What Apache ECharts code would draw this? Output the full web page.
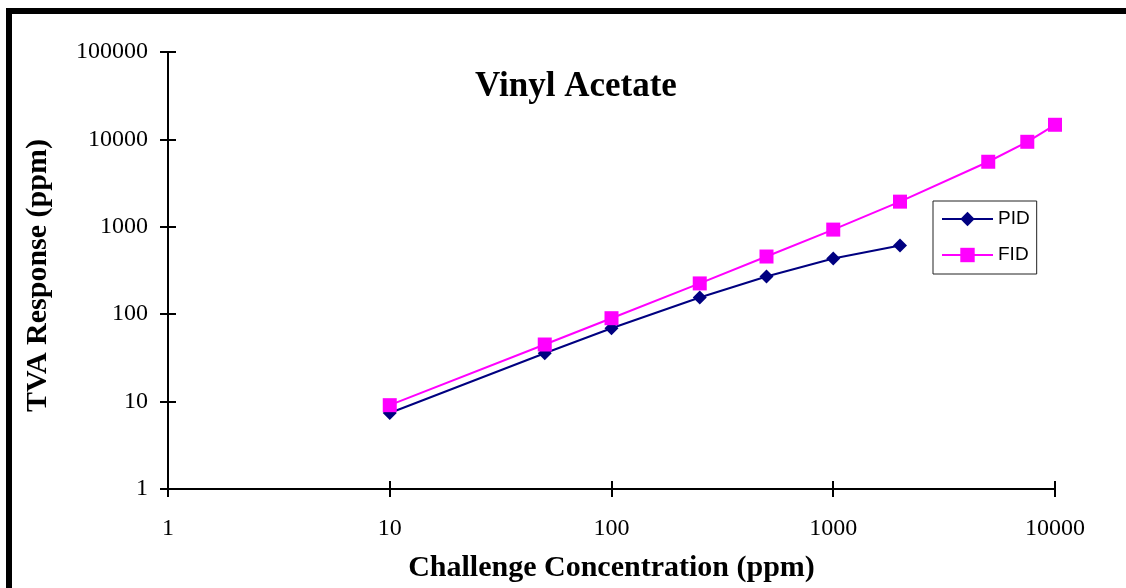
<!DOCTYPE html>
<html>
<head>
<meta charset="utf-8">
<script src="https://cdn.jsdelivr.net/npm/echarts@6/dist/echarts.min.js"></script>
<style>html,body{margin:0;padding:0;background:#fff;}#c{width:1126px;height:588px;}</style>
</head>
<body>
<div id="c"></div>
<script>
var titleText = 'Vinyl Acetate';
var xName = 'Challenge Concentration (ppm)';
var yName = 'TVA Response (ppm)';
var pidX = [10, 50, 100, 250, 500, 1000, 2000];
var pidY = [7.4, 35.7, 69, 155, 270, 433, 610];
var fidX = [10, 50, 100, 250, 500, 1000, 2000, 5000, 7500, 10000];
var fidY = [9.1, 45, 90, 225, 457, 929, 1940, 5550, 9390, 14700];

function pairs(xs, ys) { return xs.map(function (x, i) { return [x, ys[i]]; }); }
var serif = '"Liberation Serif", "Times New Roman", serif';
var fmt = function (v) { return String(Math.round(v)); };

var chart = echarts.init(document.getElementById('c'), null, {renderer: 'canvas'});
chart.setOption({
  animation: false,
  backgroundColor: '#fff',
  title: {
    text: titleText, left: 470, top: 64,
    textStyle: {fontFamily: serif, fontWeight: 'bold', fontSize: 35, color: '#000'}
  },
  legend: {
    left: 933, top: 201, orient: 'vertical',
    padding: [8, 7, 9, 8], itemGap: 16, itemWidth: 51, itemHeight: 18,
    borderColor: '#222', borderWidth: 1,
    textStyle: {fontFamily: '"Liberation Sans", Arial, sans-serif', fontSize: 19, color: '#000', lineHeight: 20, padding: [0,0,0,0]},
    data: ['PID', 'FID']
  },
  grid: {left: 168, right: 71, top: 52, bottom: 98, containLabel: false},
  xAxis: [{
    type: 'log', logBase: 10, min: 1, max: 10000,
    name: xName, nameLocation: 'middle', nameGap: 64,
    nameTextStyle: {fontFamily: serif, fontWeight: 'bold', fontSize: 30, color: '#000'},
    axisLine: {show: true, onZero: false, lineStyle: {color: '#000', width: 2}},
    axisTick: {show: true, inside: false, length: 8, lineStyle: {color: '#000', width: 2}},
    axisLabel: {fontFamily: serif, fontSize: 24, color: '#000', margin: 28, formatter: fmt},
    splitLine: {show: false}, minorTick: {show: false}
  }, {
    type: 'log', logBase: 10, min: 1, max: 10000, position: 'bottom',
    axisLine: {show: false},
    axisTick: {show: true, inside: true, length: 8, lineStyle: {color: '#000', width: 2}},
    axisLabel: {show: false}, splitLine: {show: false}
  }],
  yAxis: [{
    type: 'log', logBase: 10, min: 1, max: 100000,
    name: yName, nameLocation: 'middle', nameGap: 115,
    nameTextStyle: {fontFamily: serif, fontWeight: 'bold', fontSize: 30, color: '#000', padding: [0, 10, 0, 0]},
    axisLine: {show: true, onZero: false, lineStyle: {color: '#000', width: 2}},
    axisTick: {show: true, inside: false, length: 8, lineStyle: {color: '#000', width: 2}},
    axisLabel: {fontFamily: serif, fontSize: 24, color: '#000', margin: 20, formatter: fmt},
    splitLine: {show: false}, minorTick: {show: false}
  }, {
    type: 'log', logBase: 10, min: 1, max: 100000, position: 'left',
    axisLine: {show: false},
    axisTick: {show: true, inside: true, length: 8, lineStyle: {color: '#000', width: 2}},
    axisLabel: {show: false}, splitLine: {show: false}
  }],
  series: [{
    name: 'PID', type: 'line', xAxisIndex: 0, yAxisIndex: 0,
    data: pairs(pidX, pidY),
    symbol: 'diamond', symbolSize: 14,
    lineStyle: {color: '#000080', width: 2},
    itemStyle: {color: '#000080'}
  }, {
    name: 'FID', type: 'line', xAxisIndex: 0, yAxisIndex: 0,
    data: pairs(fidX, fidY),
    symbol: 'rect', symbolSize: 14,
    lineStyle: {color: '#FF00FF', width: 2},
    itemStyle: {color: '#FF00FF'}
  }],
  graphic: [
    {type: 'rect', shape: {x: 6, y: 8, width: 1130, height: 6}, style: {fill: '#000'}, silent: true},
    {type: 'rect', shape: {x: 6, y: 8, width: 6, height: 590}, style: {fill: '#000'}, silent: true}
  ]
});
</script>
</body>
</html>
